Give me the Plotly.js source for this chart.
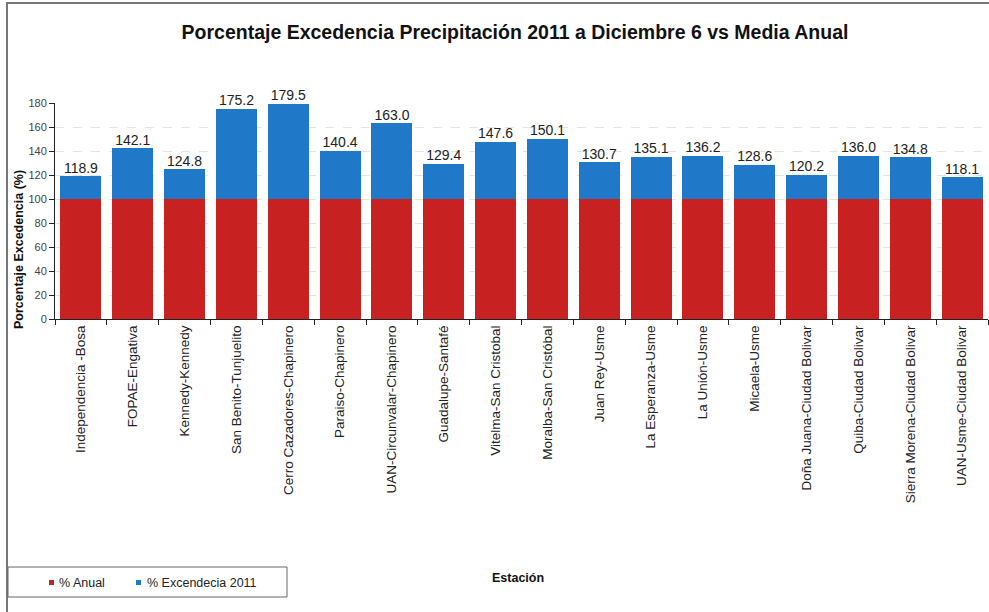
<!DOCTYPE html>
<html>
<head>
<meta charset="utf-8">
<script src="https://cdn.plot.ly/plotly-3.0.1.min.js"></script>
<style>html,body{margin:0;padding:0;background:#fff;}#chart{width:989px;height:612px;}</style>
</head>
<body>
<div id="chart"></div>
<script>
var estaciones = ["Independencia -Bosa","FOPAE-Engativa","Kennedy-Kennedy","San Benito-Tunjuelito","Cerro Cazadores-Chapinero","Paraiso-Chapinero","UAN-Circunvalar-Chapinero","Guadalupe-Santafé","Vitelma-San Cristobal","Moralba-San Cristóbal","Juan Rey-Usme","La Esperanza-Usme","La Unión-Usme","Micaela-Usme","Doña Juana-Ciudad Bolivar","Quiba-Ciudad Bolivar","Sierra Morena-Ciudad Bolivar","UAN-Usme-Ciudad Bolivar"];
var totalPct = [118.9,142.1,124.8,175.2,179.5,140.4,163.0,129.4,147.6,150.1,130.7,135.1,136.2,128.6,120.2,136.0,134.8,118.1];
var anualPct = [100,100,100,100,100,100,100,100,100,100,100,100,100,100,100,100,100,100];
var excedencia = totalPct.map(function(v,i){return +(v - anualPct[i]).toFixed(1);});
var yTicks = [0,20,40,60,80,100,120,140,160,180];
var serieNames = ['% Anual', '% Excendecia 2011'];
var serieColors = ['#C72121', '#1F78C8'];

var W = 933, H = 216, L = 55, T = 103;
function px(x){return (x - L)/W;}
function py(y){return (T + H - y)/H;}

var traces = [
  {type:'bar', name:serieNames[0], x:estaciones, y:anualPct, marker:{color:serieColors[0]}, hoverinfo:'y'},
  {type:'bar', name:serieNames[1], x:estaciones, y:excedencia, marker:{color:serieColors[1]}, hoverinfo:'y'},
  {type:'scatter', mode:'text', x:estaciones, y:totalPct, text:totalPct.map(function(v){return v.toFixed(1);}),
   textposition:'top center', textfont:{family:'Arial, Liberation Sans', size:14, color:'#222'},
   showlegend:false, cliponaxis:false, hoverinfo:'skip'}
];

var legendX = [[49,57],[136,145]];
var legShapes = [], legAnn = [];
for (var i=0;i<serieNames.length;i++){
  legShapes.push({type:'rect', xref:'paper', yref:'paper', x0:px(legendX[i][0]), x1:px(legendX[i][0]+5),
    y0:py(585), y1:py(580), fillcolor:serieColors[i], line:{width:0}, layer:'above'});
  legAnn.push({text:serieNames[i], xref:'paper', yref:'paper', x:px(legendX[i][1]), y:py(582.5),
    xanchor:'left', yanchor:'middle', showarrow:false, font:{size:12.5, color:'#222'}});
}

var layout = {
  width:989, height:612,
  margin:{l:L, r:1, t:T, b:612-T-H, autoexpand:false},
  paper_bgcolor:'#fff', plot_bgcolor:'#fff',
  barmode:'stack', bargap:0.21,
  font:{family:'Arial, Liberation Sans', color:'#222'},
  title:{text:'<b>Porcentaje Excedencia Precipitación 2011 a Diciembre 6 vs Media Anual</b>',
         font:{family:'Liberation Sans Narrow, Arial Narrow, Arial', size:19.5, color:'#111'},
         xref:'paper', x:px(515), xanchor:'center', yref:'container', y:1-32/612, yanchor:'middle'},
  xaxis:{type:'category', range:[-0.5, estaciones.length-0.5], tickangle:-90, tickfont:{size:13.5, color:'#222'},
         showline:true, linecolor:'#222', linewidth:1, ticks:'outside', ticklen:5, tickcolor:'#222',
         tickson:'boundaries', showgrid:false, automargin:false},
  yaxis:{range:[0,180], tickvals:yTicks, tickfont:{size:11, color:'#444'},
         showline:true, linecolor:'#222', linewidth:1, ticks:'outside', ticklen:5, tickcolor:'#222',
         showgrid:true, gridcolor:'#e4e4e4', griddash:'dash', zeroline:false, automargin:false},
  showlegend:false,
  annotations:[
    {text:'<b>Porcentaje Excedencia (%)</b>', textangle:-90, xref:'paper', yref:'paper',
     x:px(19), y:py(250), showarrow:false, font:{size:12.5, color:'#111'}, xanchor:'center', yanchor:'middle'},
    {text:'<b>Estación</b>', xref:'paper', yref:'paper', x:px(518), y:py(578), showarrow:false,
     font:{size:12.5, color:'#111'}, xanchor:'center', yanchor:'middle'}
  ].concat(legAnn),
  shapes:[
    {type:'rect', xref:'paper', yref:'paper', x0:px(7), x1:px(1000), y0:py(640), y1:py(3),
     line:{color:'#777', width:2}, fillcolor:'rgba(0,0,0,0)', layer:'above'},
    {type:'rect', xref:'paper', yref:'paper', x0:px(8), x1:px(287), y0:py(597), y1:py(567),
     line:{color:'#666', width:1}, fillcolor:'rgba(0,0,0,0)', layer:'above'}
  ].concat(legShapes)
};

Plotly.newPlot('chart', traces, layout, {displayModeBar:false, staticPlot:true});
</script>
</body>
</html>
